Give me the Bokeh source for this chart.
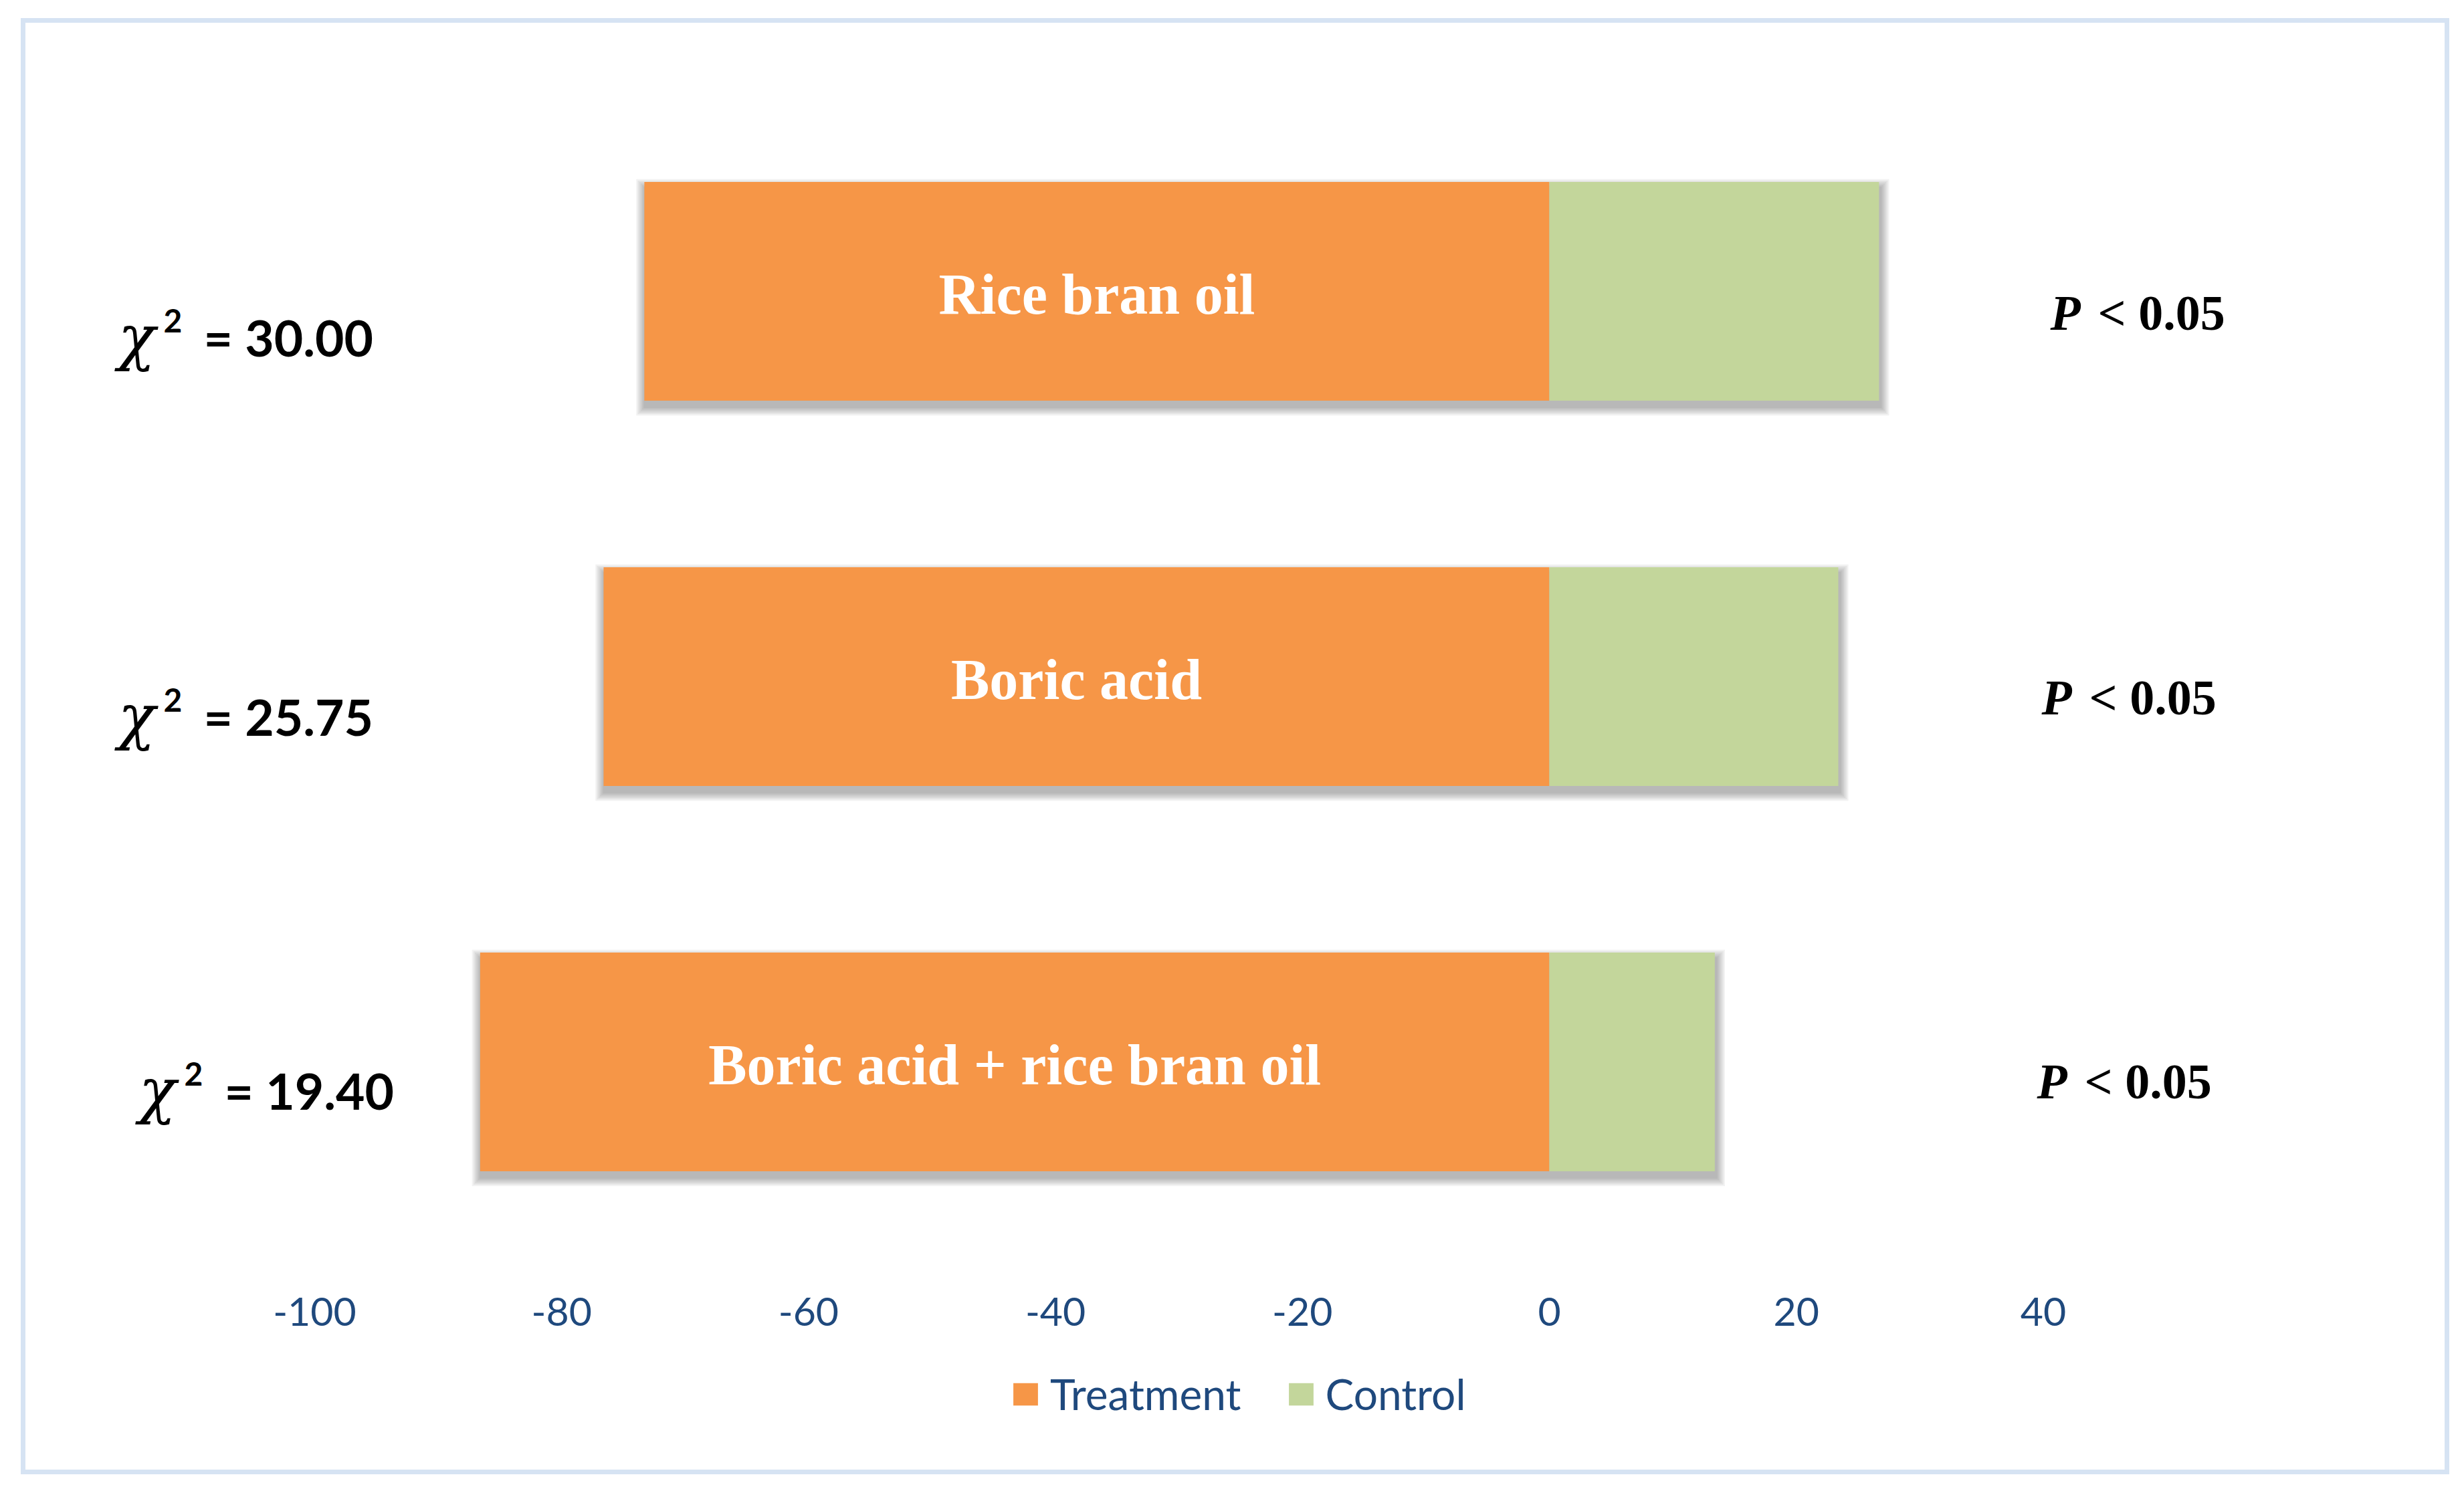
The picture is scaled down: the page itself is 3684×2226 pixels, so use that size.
from bokeh.plotting import figure
from bokeh.models import (ColumnDataSource, Range1d, FixedTicker,
                          Legend, LegendItem)
from bokeh.core.properties import value
from bokeh.embed import file_html
from bokeh.resources import INLINE

# ---------------- data ----------------
categories = ["Rice bran oil", "Boric acid", "Boric acid + rice bran oil"]
treatment = [73.3, 76.6, 86.6]      # plotted to the left (negative)
control = [26.7, 23.4, 13.4]
chi_square = [30.00, 25.75, 19.40]
p_text = ["< 0.05", "< 0.05", "< 0.05"]
series_names = ["Treatment", "Control"]
tick_values = [-100, -80, -60, -40, -20, 0, 20, 40]
tick_labels = ["-100", "-80", "-60", "-40", "-20", "0", "20", "40"]

# ---------------- layout (canvas pixels) ----------------
ZERO = 2278.0          # x pixel of value 0
PXU = 18.46            # pixels per unit
FL, FR = 2, 3612       # frame left/right
FT = 113               # frame top
CAT_PX = 576.0         # pixels per category
BARS_BOTTOM = FT + 3 * CAT_PX      # 1841: where the category band ends
FB = 2123              # frame bottom (room for the legend inside the frame)
CANVAS_H = 2163
BAR_H = 0.568

ORANGE = "#F69647"
GREEN = "#C3D69B"
BLUE = "#1F497D"

def dx(px):
    return (px - ZERO) / PXU

n = len(categories)
ypos = [n - 0.5 - i for i in range(n)]   # category slots, top to bottom

p = figure(frame_width=FR - FL, frame_height=FB - FT,
           output_backend="svg", toolbar_location=None,
           x_range=Range1d(dx(FL), dx(FR)),
           y_range=Range1d(-(FB - BARS_BOTTOM) / CAT_PX, float(n)),
           y_axis_location=None,
           min_border_left=FL, min_border_right=5,
           min_border_top=FT, min_border_bottom=CANVAS_H - FB)
p.outline_line_color = None
p.xgrid.visible = False
p.ygrid.visible = False
p.background_fill_color = "white"
p.border_fill_color = "white"
p.styles = {"border": "7px solid #D6E3F3", "margin": "27px 0px 0px 31px",
            "background-color": "white"}

# ---------------- shadows ----------------
for i in range(1, 7):
    e = i * 2.2
    src = ColumnDataSource(dict(
        y=[v - 9.0 / CAT_PX for v in ypos],
        left=[-t - (e - 1.0) / PXU for t in treatment],
        right=[c + (e + 2.0) / PXU for c in control],
    ))
    p.hbar(y="y", left="left", right="right",
           height=BAR_H + 2 * e / CAT_PX, source=src,
           fill_color="black", fill_alpha=0.05, line_color=None)

# ---------------- bars ----------------
bar_src = ColumnDataSource(dict(
    cat=categories,
    y=ypos,
    tleft=[-t for t in treatment],
    cright=control,
    zero=[0] * n,
    label_x=[-t / 2.0 for t in treatment],
))
r_t = p.hbar(y="y", left="tleft", right="zero", height=BAR_H, source=bar_src,
             fill_color=ORANGE, line_color=None)
r_c = p.hbar(y="y", left="zero", right="cright", height=BAR_H, source=bar_src,
             fill_color=GREEN, line_color=None)

# bar labels
p.text(x="label_x", y="y", text="cat", source=bar_src,
       text_color="white", text_font=value("Liberation Serif"), text_font_style="bold",
       text_font_size="86px", text_align="center", text_baseline="middle", y_offset=4)

# ---------------- chi-square labels ----------------
eq_x_px = [266, 266, 297]
eq_y_off = [68.5, 59.5, 42.5]
chi_src = ColumnDataSource(dict(
    y=ypos,
    x=[dx(v) for v in eq_x_px],
    yoff=eq_y_off,
    supoff=[v - 25 for v in eq_y_off],
    eq=["= %.2f" % v for v in chi_square],
    chi=["\u03c7"] * n,
    two=["2"] * n,
))
p.text(x="x", y="y", text="eq", source=chi_src, y_offset="yoff",
       text_font=value("Lato"), text_font_style="bold", text_font_size="75px",
       text_color="black", text_align="left", text_baseline="alphabetic")
p.text(x="x", y="y", text="chi", source=chi_src, y_offset="yoff", x_offset=-128,
       text_font=value("DejaVu Serif"), text_font_style="italic", text_font_size="92px",
       text_color="black", text_align="left", text_baseline="alphabetic")
p.text(x="x", y="y", text="two", source=chi_src, y_offset="supoff", x_offset=-60,
       text_font=value("Lato"), text_font_style="bold", text_font_size="48px",
       text_color="black", text_align="left", text_baseline="alphabetic")

# ---------------- P labels ----------------
p_x_px = [3027, 3014, 3007]
p_y_off = [32.5, 31.5, 29.5]
p_src = ColumnDataSource(dict(
    y=ypos,
    x=[dx(v) for v in p_x_px],
    yoff=p_y_off,
    pp=["P"] * n,
    rest=p_text,
))
p.text(x="x", y="y", text="pp", source=p_src, y_offset="yoff",
       text_font=value("Liberation Serif"), text_font_style="bold italic", text_font_size="74px",
       text_color="black", text_align="left", text_baseline="alphabetic")
p.text(x="x", y="y", text="rest", source=p_src, y_offset="yoff", x_offset=71,
       text_font=value("Liberation Serif"), text_font_style="bold", text_font_size="74px",
       text_color="black", text_align="left", text_baseline="alphabetic")

# ---------------- axis (labels lifted up to sit under the bars) ----------------
ax = p.xaxis[0]
ax.ticker = FixedTicker(ticks=tick_values)
ax.major_label_overrides = {v: s for v, s in zip(tick_values, tick_labels)}
ax.axis_line_color = None
ax.major_tick_line_color = None
ax.minor_tick_line_color = None
ax.major_tick_out = 0
ax.major_tick_in = 0
ax.major_label_text_font = "Lato"
ax.major_label_text_font_size = "59px"
ax.major_label_text_color = BLUE
ax.major_label_standoff = int(BARS_BOTTOM + 64 - FB)

# ---------------- legend (inside the extended frame) ----------------
legend = Legend(items=[LegendItem(label=series_names[0], renderers=[r_t]),
                       LegendItem(label=series_names[1], renderers=[r_c])],
                orientation="horizontal", location=(1470, FB - 2088),
                glyph_width=46, glyph_height=42, label_standoff=14, spacing=66,
                label_text_font="Lato", label_text_font_size="64px",
                label_text_color=BLUE, border_line_color=None,
                background_fill_alpha=0, margin=0, padding=0)
p.add_layout(legend, "center")

open("out.html", "w").write(file_html(p, INLINE))
